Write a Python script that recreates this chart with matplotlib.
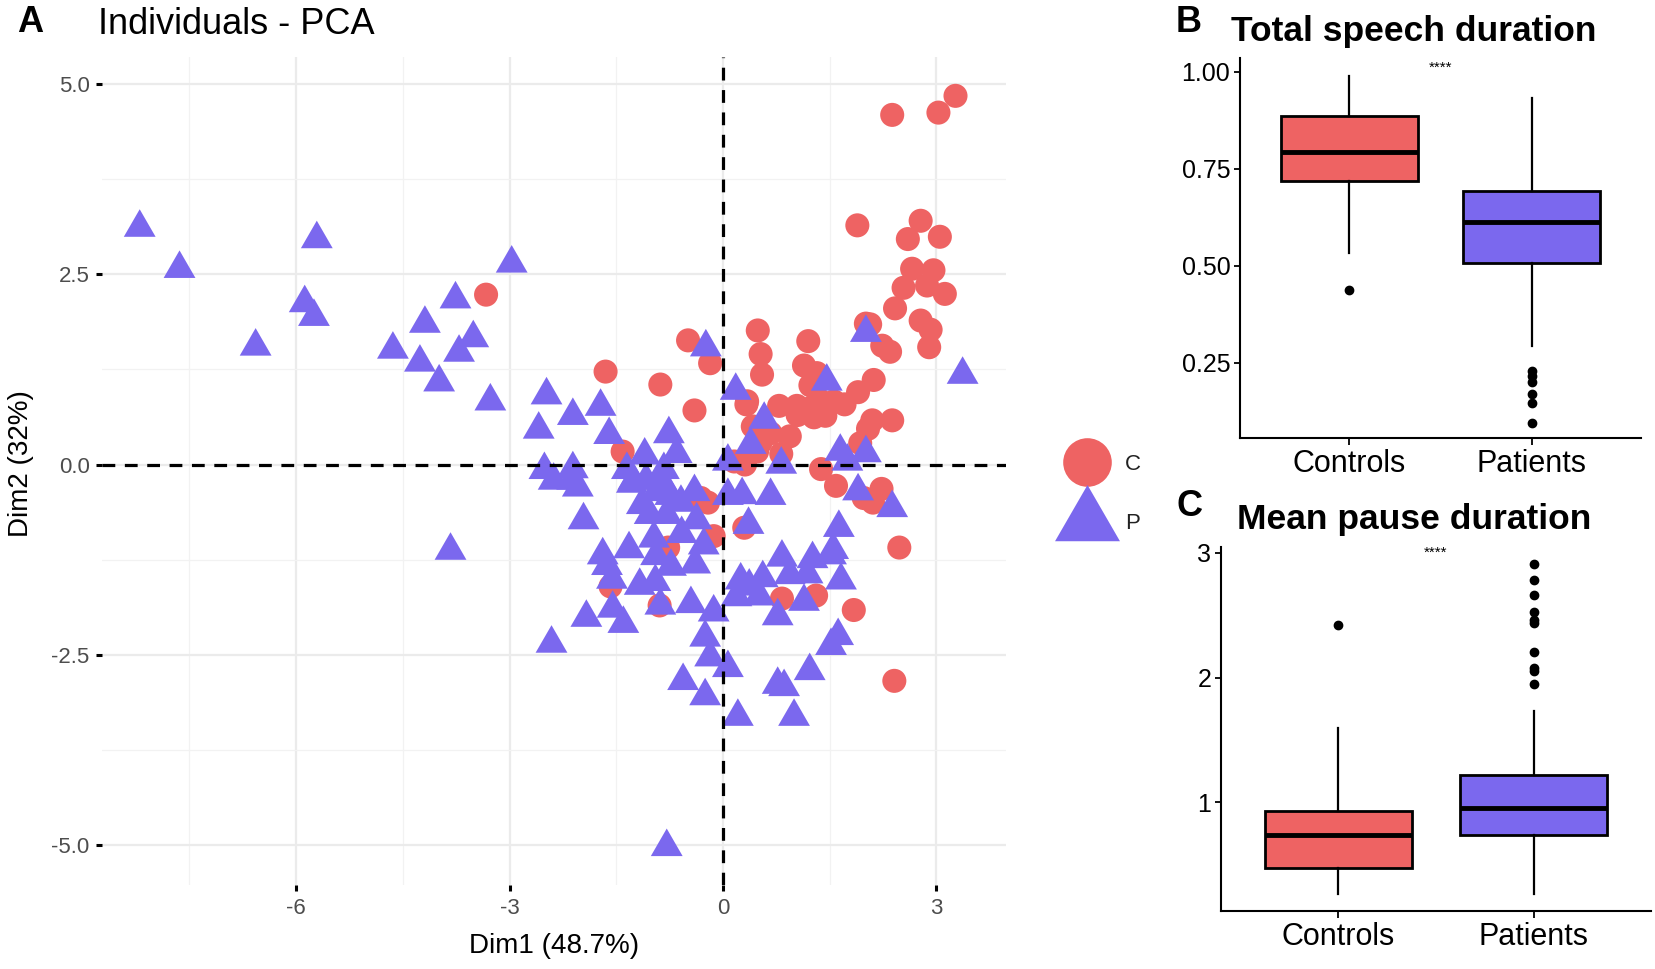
import matplotlib
matplotlib.use("Agg")
import matplotlib.pyplot as plt
from matplotlib.lines import Line2D

plt.rcParams['font.family'] = ['Liberation Sans', 'DejaVu Sans']
plt.rcParams['axes.unicode_minus'] = False

# --- PCA individuals ---
ctrl_x = [3.27, 3.03, 2.38, 1.89, 2.78, 3.05, 2.60, 2.66, 2.96, 2.54, 2.87, 3.12, 2.42, 2.78, 2.92,
          2.90, 2.07, 2.01, 2.24, 2.35, 0.49, 0.53, 0.55, 1.20, 1.14, 1.32, 1.23, 1.34, 0.79, 1.04,
          1.56, 1.90, 2.12, 1.71, 0.94, 1.28, 1.44, 0.34, 0.42, 0.33, 0.67, 0.48, 0.82, 0.16, 0.31,
          1.38, 1.59, 2.04, 2.10, 2.38, 1.93, 2.23, 1.98, 2.11, 2.48, 2.41, 1.84, 1.31, 0.83, 0.30,
          -0.13, -0.31, -0.21, -0.18, -0.49, -0.40, -0.88, -1.65, -1.41, -0.77, -1.58, -0.89, -3.33,
          1.05, 1.19, 0.53]
ctrl_y = [4.84, 4.62, 4.59, 3.14, 3.20, 2.99, 2.96, 2.57, 2.55, 2.32, 2.35, 2.24, 2.05, 1.89, 1.77,
          1.54, 1.84, 1.85, 1.56, 1.48, 1.76, 1.45, 1.18, 1.62, 1.30, 1.20, 1.04, 0.86, 0.77, 0.77,
          0.83, 0.95, 1.11, 0.79, 0.37, 0.62, 0.64, 0.83, 0.50, 0.79, 0.41, 0.17, 0.14, 0.04, 0.00,
          -0.06, -0.28, 0.47, 0.58, 0.58, 0.28, -0.32, -0.44, -0.50, -1.09, -2.84, -1.91, -1.72, -1.76,
          -0.83, -0.94, -0.44, -0.50, 1.33, 1.63, 0.71, 1.05, 1.22, 0.17, -1.09, -1.60, -1.85, 2.23,
          0.65, 0.73, 0.29]

pat_x = [-8.20, -7.64, -6.57, -5.88, -5.75, -5.71, -4.64, -4.19, -4.26, -3.99, -3.76, -3.71, -3.51,
         -3.27, -2.97, -3.83, -2.48, -2.59, -2.11, -1.72, -1.60, -2.51, -2.11, -2.04, -2.38, -1.96,
         -1.69, -1.56, -1.92, -1.55, -1.40, -2.41, -1.63, -1.28, -1.14, -0.94, -0.83, -0.76, -0.65,
         -1.35, -1.03, -0.79, -0.59, -0.37, -0.94, -0.95, -0.73, -0.88, -0.45, -0.39, -0.27, -0.58,
         -0.24, -0.13, -0.25, -0.18, -0.56, -0.25, 0.07, 0.21, -0.79, 0.18, 0.27, 0.67, 0.36, 0.25,
         0.37, 0.19, 0.56, 0.51, 0.83, 0.94, 1.19, 1.26, 1.55, 1.63, 1.52, 1.66, 1.14, 0.77, 0.77,
         0.86, 1.00, 1.22, 1.52, 1.62, 0.39, 0.07, 0.07, 0.58, 1.46, 1.65, 2.01, 1.90, 2.38, 3.37,
         2.01, 0.82, 1.75, -1.10, -1.26, -1.08, -0.82, -0.74, -0.40, -0.97, -1.32, -1.17, -2.12]
pat_y = [3.11, 2.57, 1.55, 2.12, 1.94, 2.96, 1.51, 1.85, 1.34, 1.08, 2.17, 1.47, 1.66, 0.83, 2.64,
         -1.13, 0.91, 0.46, 0.64, 0.76, 0.39, -0.07, -0.06, -0.30, -0.21, -0.73, -1.19, -1.51, -2.01,
         -1.89, -2.09, -2.35, -1.33, -0.25, -0.53, -0.36, -0.07, 0.40, 0.14, -0.07, -0.66, -0.66,
         -0.50, -0.73, -1.20, -1.54, -1.34, -1.85, -1.83, -1.31, -1.06, -0.91, 1.54, -1.94, -2.27,
         -2.53, -2.84, -3.04, -2.67, -3.31, -5.02, 0.97, -0.40, -0.41, -0.79, -1.52, -1.60, -1.74,
         -1.49, -1.73, -1.22, -1.45, -1.44, -1.24, -1.12, -0.83, -1.19, -1.52, -1.80, -1.99, -2.89,
         -2.92, -3.31, -2.71, -2.38, -2.25, 0.26, 0.04, -0.41, 0.59, 1.09, 0.17, 0.15, -0.35, -0.57,
         1.18, 1.73, 0.00, 0.04, 0.12, -0.21, -0.21, -0.29, -0.41, -0.36, -0.97, -1.11, -1.59, -0.21]

groups = ['Controls', 'Patients']

# --- Total speech duration box stats ---
speech_med = [0.794, 0.613]
speech_q1 = [0.718, 0.506]
speech_q3 = [0.885, 0.692]
speech_lo = [0.533, 0.293]
speech_hi = [0.989, 0.931]
speech_out = [[0.437], [0.228, 0.215, 0.200, 0.170, 0.145, 0.095]]

# --- Mean pause duration box stats ---
pause_med = [0.736, 0.952]
pause_q1 = [0.472, 0.734]
pause_q3 = [0.928, 1.216]
pause_lo = [0.259, 0.259]
pause_hi = [1.595, 1.734]
pause_out = [[2.42], [2.915, 2.784, 2.66, 2.53, 2.46, 2.435, 2.206, 2.08, 2.05, 1.952]]

RED = '#EE6363'
BLUE = '#7B68EE'
tri = [(-1, -0.577), (1, -0.577), (0, 1.155)]

W, H = 1655, 969
fig = plt.figure(figsize=(W / 100, H / 100), dpi=100)


def rect(l, t, r, b):
    return [l / W, 1 - b / H, (r - l) / W, (b - t) / H]


# ---------------- A: PCA ----------------
ax = fig.add_axes(rect(102, 57, 1006, 885))
ax.set_xlim(-8.73, 3.98)
ax.set_ylim(-5.52, 5.35)
ax.set_xticks([-6, -3, 0, 3])
ax.set_xticks([-7.5, -4.5, -1.5, 1.5], minor=True)
ax.set_yticks([-5, -2.5, 0, 2.5, 5])
ax.set_yticks([-3.75, -1.25, 1.25, 3.75], minor=True)
ax.set_yticklabels(['-5.0', '-2.5', '0.0', '2.5', '5.0'])
ax.grid(which='major', color='#EBEBEB', lw=1.6)
ax.grid(which='minor', color='#F2F2F2', lw=0.9)
ax.set_axisbelow(True)
for s in ax.spines.values():
    s.set_visible(False)
ax.tick_params(which='major', length=4, width=2.2, color='black', labelcolor='#4D4D4D',
               labelsize=16, pad=5)
ax.tick_params(which='minor', length=0)

ax.scatter(ctrl_x, ctrl_y, s=300, marker='o', color=RED, edgecolors='none', zorder=2)
ax.scatter(pat_x, pat_y, s=700, marker=tri, color=BLUE, edgecolors='none', zorder=2)
ax.axhline(0, color='black', ls=(0, (4, 3)), lw=2.3, zorder=3)
ax.axvline(0, color='black', ls=(0, (4, 3)), lw=2.3, zorder=3)

fig.text(17 / W, 1 - 23 / H, 'A', fontsize=26, fontweight='bold', va='center', ha='left')
fig.text(98 / W, 1 - 24 / H, 'Individuals - PCA', fontsize=26, va='center', ha='left')
fig.text(554 / W, 1 - 946 / H, 'Dim1 (48.7%)', fontsize=20, va='center', ha='center')
fig.text(21 / W, 1 - 464 / H, 'Dim2 (32%)', fontsize=20, va='center', ha='center', rotation=90)

handles = [Line2D([], [], ls='none', marker='o', color=RED, markersize=35, markeredgewidth=0),
           Line2D([], [], ls='none', marker=tri, color=BLUE, markersize=54, markeredgewidth=0)]
fig.legend(handles, ['C', 'P'], loc='center left', bbox_to_anchor=(1045 / W, 1 - 494 / H),
           frameon=False, fontsize=16, handlelength=2.0, handletextpad=0.7, labelspacing=1.75,
           labelcolor='#222222')


# ---------------- B / C: box plots ----------------
def box_panel(r, title, letter, tpos, med, q1, q3, lo, hi, out, ylim, yticks, ylabels, stars):
    bx = fig.add_axes(rect(*r))
    stats = []
    for i in range(2):
        stats.append(dict(med=med[i], q1=q1[i], q3=q3[i], whislo=lo[i], whishi=hi[i],
                          fliers=out[i], label=groups[i]))
    bp = bx.bxp(stats, positions=[1, 2], widths=0.75, patch_artist=True,
                boxprops=dict(lw=2, edgecolor='black'),
                medianprops=dict(color='black', lw=3.5),
                whiskerprops=dict(color='black', lw=1.6),
                capprops=dict(lw=0),
                flierprops=dict(marker='o', markerfacecolor='black', markeredgecolor='black',
                                markersize=6))
    for patch, c in zip(bp['boxes'], [RED, BLUE]):
        patch.set_facecolor(c)
    bx.set_xlim(0.4, 2.6)
    bx.set_ylim(*ylim)
    bx.set_yticks(yticks)
    bx.set_yticklabels(ylabels)
    bx.spines['top'].set_visible(False)
    bx.spines['right'].set_visible(False)
    bx.spines['left'].set_linewidth(1.5)
    bx.spines['bottom'].set_linewidth(1.5)
    bx.tick_params(axis='y', length=4, width=1.3, labelsize=18, pad=3, labelcolor='black')
    bx.tick_params(axis='x', length=5, width=1.3, labelsize=22, pad=3, labelcolor='black')
    bx.text(stars[0], stars[1], '****', fontsize=11, ha='center', va='center')
    fig.text(letter[0] / W, 1 - letter[1] / H, letter[2], fontsize=26, fontweight='bold',
             va='center', ha='left')
    fig.text(tpos[0] / W, 1 - tpos[1] / H, title, fontsize=25.5, fontweight='bold',
             va='center', ha='center')
    return bx


box_panel((1240, 58, 1641, 438), 'Total speech duration', (1176, 23, 'B'), (1414, 31),
          speech_med, speech_q1, speech_q3, speech_lo, speech_hi, speech_out,
          (0.056, 1.035), [0.25, 0.5, 0.75, 1.0], ['0.25', '0.50', '0.75', '1.00'], (1.5, 1.01))
box_panel((1221, 547, 1651, 911), 'Mean pause duration', (1176, 507, 'C'), (1414, 519),
          pause_med, pause_q1, pause_q3, pause_lo, pause_hi, pause_out,
          (0.126, 3.048), [1, 2, 3], ['1', '2', '3'], (1.5, 3.0))

fig.savefig('out.png', dpi=100)
